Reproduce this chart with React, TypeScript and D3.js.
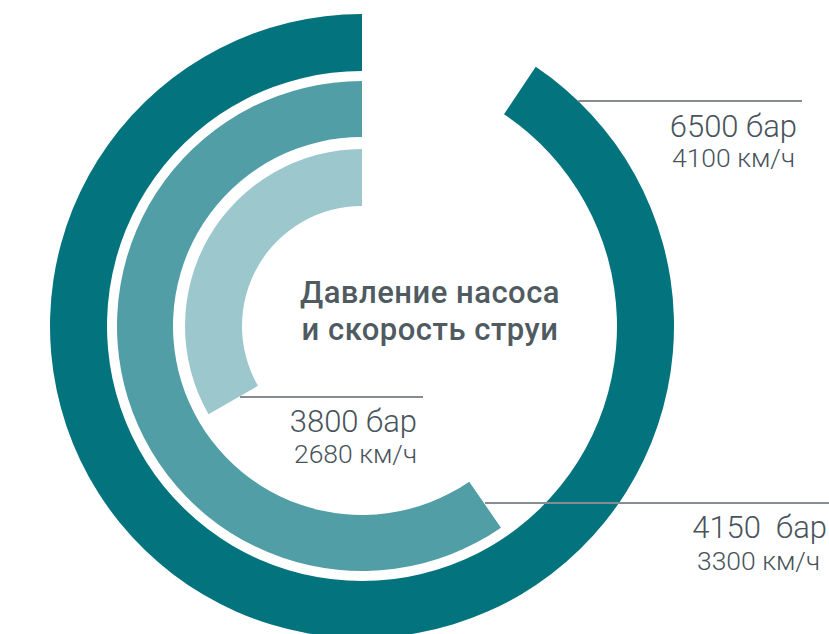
import React from "react";
import * as d3 from "d3";

const pressures = ["6500 бар", "4150  бар", "3800 бар"];
const speeds = ["4100 км/ч", "3300 км/ч", "2680 км/ч"];
// share of full circle covered by each ring
const shares = [0.906, 0.596, 0.333];
const colors = ["#03737e", "#519ea6", "#9cc7cd"];
const titleLines = ["Давление насоса", "и скорость струи"];

const W = 829;
const H = 634;
const cx = 362;
const cy = 326;
const rings = [
  { inner: 255, outer: 312 },
  { inner: 189, outer: 245 },
  { inner: 120, outer: 177 },
];
// label layout: line y, line x range, text anchor x, baselines
const labelLayout = [
  { ly: 101, lx1: null as number | null, lx2: 802, tx: 797, tx2: 795, b1: 137, b2: 167 },
  { ly: 503, lx1: 485, lx2: 829, tx: 827, tx2: 820, b1: 538, b2: 570 },
  { ly: 397, lx1: 240, lx2: 423, tx: 417, tx2: 417, b1: 432, b2: 463 },
];

export default function App() {
  const angle = d3.scaleLinear().domain([0, 1]).range([0, 2 * Math.PI]);
  const arcs = rings.map((r, i) =>
    d3
      .arc()
      .innerRadius(r.inner)
      .outerRadius(r.outer)
      .startAngle(angle(1 - shares[i]))
      .endAngle(angle(1))({} as any) as string
  );
  const lineColor = "#858d93";
  const textColor = "#48535b";
  const renderLabel = (i: number) => {
    const L = labelLayout[i];
    const x1 =
      L.lx1 != null
        ? L.lx1
        : cx + Math.sqrt(rings[0].outer ** 2 - (cy - L.ly) ** 2);
    return (
      <line key={"l" + i} x1={x1} x2={L.lx2} y1={L.ly} y2={L.ly} stroke={lineColor} strokeWidth={2.2} />
    );
  };
  const renderText = (i: number) => {
    const L = labelLayout[i];
    return (
      <g key={"t" + i} fill={textColor} fontFamily="Roboto" textAnchor="end">
        <text x={L.tx} y={L.b1} fontSize={31} fontWeight={300} style={{ whiteSpace: "pre" }}>
          {pressures[i]}
        </text>
        <text x={L.tx2} y={L.b2} fontSize={26.5} fontWeight={300}>
          {speeds[i]}
        </text>
      </g>
    );
  };
  return (
    <svg
      width={W}
      height={H}
      style={{ position: "fixed", left: 0, top: 0, background: "#fff" }}
    >
      <path d={arcs[0]} transform={`translate(${cx},${cy})`} fill={colors[0]} />
      {[0, 1, 2].map(renderLabel)}
      <path d={arcs[1]} transform={`translate(${cx},${cy})`} fill={colors[1]} />
      <path d={arcs[2]} transform={`translate(${cx},${cy})`} fill={colors[2]} />
      {[0, 1, 2].map(renderText)}
      {titleLines.map((t, i) => (
        <text
          key={i}
          x={430}
          y={303 + i * 37}
          fill="#4f5a61"
          fontFamily="Roboto"
          fontWeight={500}
          fontSize={31}
          letterSpacing={0.5}
          textAnchor="middle"
        >
          {t}
        </text>
      ))}
    </svg>
  );
}
